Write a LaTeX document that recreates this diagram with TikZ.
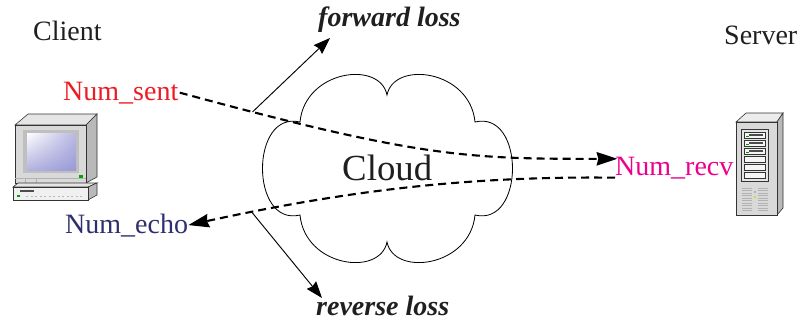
\documentclass[tikz,border=0pt]{standalone}
\usepackage{fontspec}
\setmainfont{Liberation Serif}
\usetikzlibrary{arrows.meta, shadings}

\definecolor{sentred}{HTML}{ED1C24}
\definecolor{recvpink}{HTML}{EC008C}
\definecolor{echoblue}{HTML}{2E2F6E}
\definecolor{screenblue}{HTML}{9A9AD6}

\begin{document}
\begin{tikzpicture}[x=0.03cm, y=-0.03cm, >=Stealth,
    lbl/.style={inner sep=0pt, anchor=base west, text=black!88, font=\fontsize{23.9}{28}\selectfont},
    loss/.style={lbl, font=\fontsize{23.9}{28}\selectfont\bfseries\itshape},
    msg/.style={line width=1.8pt, dash pattern=on 0.24cm off 0.15cm, -{Stealth[length=0.62cm, width=0.4cm, inset=0.05cm]}},
    tap/.style={line width=0.8pt, -{Stealth[length=0.5cm, width=0.36cm, inset=0.05cm]}},
    box/.style={draw=black!80, line width=0.5pt}]
    \useasboundingbox (0,0) rectangle (802,324);

    % Client computer
    \filldraw[box, fill=gray!20] (15,125) -- (28,114) -- (97,114) -- (86,125) -- cycle;
    \filldraw[box, fill=gray!55] (86,125) -- (97,114) -- (97,177) -- (86,183) -- cycle;
    \filldraw[box, fill=gray!30] (15,125) rectangle (86,183);
    \fill[gray!50] (23,130) rectangle (79,173);
    \shade[upper left=white, upper right=screenblue!70, lower left=screenblue!75, lower right=screenblue]
        (27,133) rectangle (76,170);
    \draw[gray!60, line width=0.4pt] (15,178) -- (86,178) (25,178) -- (25,183) (36,178) -- (36,183);
    \fill[green!65!black] (79,175) rectangle (83,177.5);
    \filldraw[box, fill=gray!20] (13,187) -- (18,183) -- (97,183) -- (88,187) -- cycle;
    \filldraw[box, fill=gray!55] (88,187) -- (97,183) -- (97,195) -- (88,200) -- cycle;
    \filldraw[box, fill=gray!12] (13,187) rectangle (88,200);
    \fill[black!70] (20,190) rectangle (34,192);
    \fill[green!60!black] (17,195) rectangle (20,197);
    \foreach \i in {0,...,12}
        \fill[gray!55] (26+4.5*\i,195.5) rectangle (28+4.5*\i,196.5);

    % Server
    \filldraw[box, fill=gray!15] (736,122) -- (746,113) -- (783,113) -- (777,122) -- cycle;
    \filldraw[box, fill=gray!55] (777,122) -- (783,113) -- (783,208) -- (777,215) -- cycle;
    \filldraw[box, fill=gray!30] (736,122) rectangle (777,215);
    \filldraw[box, fill=gray!20] (741,129) rectangle (768,181);
    \foreach \y in {132,140,148,156,164,172}
        \filldraw[box, fill=gray!8] (744,\y) rectangle (765,\y+6);
    \foreach \y in {132,140,148} {
        \fill[black!70] (749,\y+2) rectangle (763,\y+3.5);
        \fill[green!60!black] (745.5,\y+3.5) rectangle (748.5,\y+5);
    }
    \foreach \y in {188,190.5,...,211} {
        \draw[gray!60, line width=0.4pt] (742,\y) -- (752,\y);
        \draw[gray!60, line width=0.4pt] (758,\y) -- (768,\y);
    }
    \fill[gray!60] (754,191) rectangle (756,193);
    \fill[yellow!70!gray] (754,196) rectangle (756,198);

    % Cloud
    \draw[line width=0.7pt] (300,122) .. controls (305,70) and (380,60) .. (387,95)
        .. controls (394,60) and (470,70) .. (475,122)
        .. controls (525,110) and (525,227) .. (475,215)
        .. controls (470,267) and (394,277) .. (387,242)
        .. controls (380,277) and (305,267) .. (300,215)
        .. controls (250,227) and (250,110) .. cycle;
    \node[lbl, font=\fontsize{31.4}{36}\selectfont] (cloud) at (342,180) {Cloud};

    % Nodes
    \node[lbl] (client) at (33,40) {Client};
    \node[lbl] (server) at (724,44) {Server};
    \node[lbl, text=sentred] (sent) at (63,100) {Num\_sent};
    \node[lbl, text=echoblue] (echo) at (65,233) {Num\_echo};
    \node[lbl, text=recvpink] (recv) at (615,175) {Num\_recv};
    \node[loss] (fwd) at (318,26) {forward loss};
    \node[loss] (rev) at (316,315) {reverse loss};
    \coordinate (fwdtip) at (330,38);
    \coordinate (revtip) at (322,298);

    % Dashed messages through the cloud
    \draw[msg] ([xshift=1pt]sent.east) .. controls (420,158) and (470,159) ..
        coordinate[pos=0.11] (tapF) ([xshift=2pt, yshift=-2pt]recv.north west);
    \draw[msg] ([yshift=1pt]recv.south west) .. controls (470,176) and (350,190) ..
        coordinate[pos=0.865] (tapR) (echo.east);

    % Loss arrows
    \draw[tap] (tapF) -- (fwdtip);
    \draw[tap] (tapR) -- (revtip);
\end{tikzpicture}
\end{document}
